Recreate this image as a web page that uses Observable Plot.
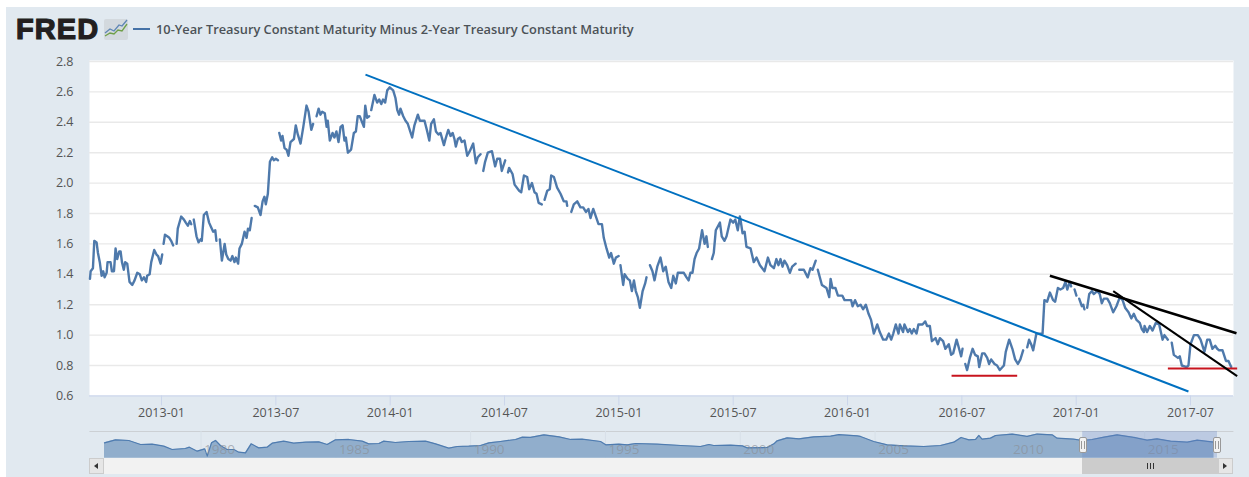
<!DOCTYPE html>
<html>
<head>
<meta charset="utf-8">
<script src="https://cdn.jsdelivr.net/npm/d3@7"></script>
<script src="https://cdn.jsdelivr.net/npm/@observablehq/plot@0.6"></script>
<style>
html,body{margin:0;padding:0;background:#fff;overflow:hidden}
#page{position:relative;width:1249px;height:477px;overflow:hidden}
#bg{position:absolute;left:6px;top:7px;right:0;bottom:0;background:#e1e9f0}
#page svg{position:absolute}
.box{position:absolute;box-sizing:border-box}
#fred{position:absolute;left:16px;top:13px;font:900 29px/32px "Liberation Sans",sans-serif;color:#231f20;-webkit-text-stroke:1.2px #231f20;letter-spacing:1.1px}
#lg{position:absolute;left:156px;top:20px;font:600 12.8px/18px "Open Sans",sans-serif;color:#4c5257;white-space:nowrap}
#sw{position:absolute;left:133px;top:28px;width:17px;height:2px;background:#4572a7}
</style>
</head>
<body>
<div id="page"><div id="bg"></div></div>
<script>
// Main series: decimal year and spread in percentage points; null marks a gap in the line
const years = [
2012.687,2012.690,2012.700,2012.706,2012.716,2012.722,2012.730,2012.738,2012.745,2012.751,2012.760,2012.764,2012.777,2012.783,2012.792,2012.799,2012.806,2012.815,2012.821,2012.827,2012.835,2012.841,2012.850,2012.860,2012.872,2012.882,2012.894,2012.905,2012.914,2012.923,2012.933,2012.937,2012.948,2012.955,2012.968,2012.978,2012.985,2012.996,2013.003,2013.006,
2013.009,2013.015,2013.025,2013.034,2013.042,2013.051,2013.058,
2013.066,2013.071,2013.086,2013.098,2013.106,2013.115,2013.124,2013.130,2013.135,
2013.141,2013.153,2013.162,2013.171,2013.176,2013.185,2013.197,2013.208,2013.217,2013.226,2013.235,2013.240,2013.248,
2013.255,2013.264,2013.276,2013.283,2013.292,2013.302,2013.310,2013.319,2013.325,2013.335,2013.341,2013.351,2013.363,2013.372,2013.378,2013.386,2013.394,2013.401,
2013.408,2013.421,2013.433,2013.442,2013.450,2013.456,2013.465,2013.474,2013.484,2013.491,2013.500,2013.509,2013.512,
2013.515,2013.523,2013.529,2013.538,2013.547,2013.555,2013.564,2013.579,2013.587,2013.596,2013.608,2013.620,2013.634,2013.643,2013.655,2013.663,2013.670,
2013.678,2013.687,2013.695,2013.703,2013.714,2013.722,2013.727,2013.736,2013.748,2013.756,2013.765,2013.774,2013.783,2013.792,2013.800,2013.806,2013.815,2013.829,2013.841,2013.850,2013.858,2013.867,2013.885,2013.891,2013.899,2013.908,2013.912,
2013.917,2013.931,2013.943,2013.952,2013.961,2013.969,2013.978,2013.987,2013.998,2014.013,2014.023,2014.031,2014.039,
2014.045,2014.057,2014.067,2014.077,2014.096,2014.106,2014.121,2014.130,2014.140,2014.150,2014.162,2014.171,2014.179,2014.191,2014.200,2014.211,2014.220,2014.235,2014.242,2014.254,2014.264,2014.273,2014.281,2014.287,2014.296,2014.305,2014.313,2014.325,2014.337,2014.348,2014.363,2014.375,2014.383,2014.395,2014.400,
2014.407,2014.415,2014.427,2014.445,2014.459,2014.468,2014.480,2014.488,2014.503,2014.510,
2014.515,2014.520,2014.535,2014.544,2014.564,2014.573,2014.585,2014.599,2014.608,2014.620,2014.631,2014.640,2014.649,2014.663,2014.670,
2014.675,2014.687,2014.698,2014.704,2014.716,2014.730,2014.745,2014.759,2014.771,2014.774,2014.783,
2014.792,2014.803,2014.818,2014.832,2014.844,2014.856,2014.867,2014.876,2014.888,2014.902,2014.911,2014.926,2014.934,2014.946,2014.958,2014.966,2014.978,2014.987,2014.999,2015.003,
2015.007,2015.019,2015.025,2015.039,2015.048,2015.057,2015.066,2015.074,2015.083,2015.092,2015.104,2015.115,2015.121,2015.128,
2015.136,2015.147,2015.156,2015.168,2015.182,2015.194,2015.205,2015.217,2015.229,2015.238,2015.249,2015.258,2015.273,2015.284,2015.296,2015.305,2015.313,2015.322,2015.331,2015.340,2015.351,2015.364,2015.375,2015.383,2015.389,2015.398,
2015.407,2015.415,2015.424,2015.442,2015.450,2015.462,2015.471,2015.480,2015.488,2015.500,2015.509,2015.520,2015.529,2015.532,2015.541,2015.550,2015.558,2015.576,2015.590,2015.602,2015.617,2015.637,2015.652,2015.663,2015.678,2015.689,2015.698,2015.707,2015.716,2015.724,2015.736,2015.748,2015.758,2015.773,2015.781,
2015.789,2015.809,2015.826,2015.838,2015.847,2015.861,2015.866,
2015.870,2015.888,2015.908,2015.920,2015.926,2015.934,2015.947,2015.958,2015.977,2015.987,2015.998,2016.016,2016.022,2016.033,2016.045,2016.057,2016.068,2016.080,2016.092,2016.103,2016.115,2016.130,2016.141,2016.156,2016.169,2016.181,2016.191,2016.200,2016.211,2016.223,2016.229,2016.243,2016.249,2016.264,2016.272,2016.281,2016.290,2016.302,2016.310,2016.328,2016.340,2016.348,2016.360,2016.369,2016.385,2016.395,2016.404,2016.418,2016.428,2016.443,2016.453,2016.462,2016.477,2016.488,2016.497,2016.503,2016.509,
2016.515,2016.523,2016.535,2016.547,2016.558,2016.570,2016.576,2016.589,2016.599,2016.611,2016.619,2016.628,2016.643,2016.654,2016.666,2016.684,2016.692,2016.707,2016.721,2016.733,2016.745,2016.756,2016.768,2016.777,
2016.786,2016.794,2016.803,2016.812,2016.826,2016.841,2016.853,2016.861,2016.873,2016.885,2016.899,2016.908,2016.920,2016.931,2016.943,2016.953,2016.961,2016.972,2016.978,2016.985,
2016.993,2017.001,2017.007,
2017.013,2017.025,2017.031,2017.036,2017.042,
2017.048,2017.057,2017.069,2017.077,2017.092,2017.103,2017.112,2017.121,2017.136,2017.147,2017.162,2017.176,2017.191,2017.203,2017.214,2017.229,2017.241,2017.252,2017.264,2017.278,2017.287,2017.296,2017.299,2017.310,2017.322,2017.334,2017.348,2017.363,2017.378,2017.386,2017.401,2017.410,
2017.418,2017.427,2017.445,2017.453,2017.462,2017.483,2017.491,2017.500,2017.515,2017.532,2017.544,2017.561,2017.573,2017.584,2017.596,2017.608,2017.617,2017.625,2017.640,2017.655,2017.666,2017.678
];
const spread = [
1.37,1.42,1.44,1.62,1.61,1.54,1.48,1.39,1.42,1.38,1.41,1.48,1.48,1.42,1.42,1.57,1.50,1.55,1.55,1.48,1.43,1.48,1.47,1.35,1.33,1.36,1.41,1.40,1.36,1.38,1.35,1.39,1.40,1.48,1.56,1.53,1.52,1.47,1.53,null,
1.60,1.66,1.65,1.64,1.62,1.59,null,
1.60,1.70,1.78,1.76,1.74,1.72,1.75,1.73,null,
1.76,1.65,1.61,1.63,1.62,1.79,1.81,1.74,1.71,1.68,1.69,1.62,null,
1.63,1.49,1.60,1.53,1.50,1.49,1.52,1.48,1.51,1.47,1.57,1.60,1.68,1.64,1.70,1.69,1.77,null,
1.85,1.84,1.79,1.88,1.91,1.86,1.93,2.14,2.17,2.15,2.16,2.15,null,
2.33,2.28,2.31,2.23,2.22,2.18,2.27,2.29,2.38,2.32,2.26,2.37,2.51,2.47,2.35,2.39,null,
2.44,2.49,2.45,2.47,2.46,2.37,2.41,2.28,2.33,2.30,2.34,2.27,2.37,2.38,2.28,2.30,2.20,2.22,2.33,2.34,2.44,2.44,2.37,2.51,2.43,2.44,null,
2.48,2.58,2.53,2.55,2.52,2.55,2.53,2.61,2.63,2.61,2.56,2.48,2.45,
2.49,2.44,2.41,2.39,2.30,2.38,2.45,2.41,2.41,2.41,2.34,2.28,2.39,2.42,2.34,2.32,2.33,2.25,2.29,2.35,2.31,2.33,2.29,2.24,2.29,2.30,2.27,2.28,2.18,2.21,2.26,2.13,2.17,2.19,null,
2.08,2.14,2.20,2.21,2.11,2.16,2.16,2.08,2.15,null,
2.07,2.10,2.06,1.99,1.95,1.94,2.05,2.04,1.96,2.00,1.94,1.93,1.87,1.86,null,
1.89,1.95,1.96,2.05,2.04,1.97,1.93,1.88,1.88,1.85,null,
1.81,1.86,1.88,1.84,1.84,1.81,1.83,1.77,1.83,1.77,1.73,1.73,1.64,1.57,1.51,1.54,1.47,1.51,1.52,null,
1.46,1.33,1.40,1.37,1.36,1.29,1.36,1.29,1.25,1.18,1.29,1.34,1.38,null,
1.46,1.42,1.36,1.45,1.51,1.42,1.45,1.35,1.31,1.39,1.34,1.41,1.41,1.41,1.38,1.36,1.41,1.41,1.50,1.54,1.57,1.69,1.60,1.65,1.58,null,
1.50,1.54,1.69,1.74,1.65,1.62,1.65,1.71,1.76,1.74,1.76,1.69,1.78,1.76,1.67,1.68,1.58,1.57,1.48,1.51,1.46,1.42,1.51,1.46,1.44,1.50,1.46,1.50,1.45,1.49,1.46,1.41,1.45,1.47,null,
1.43,1.43,1.38,1.44,1.43,1.49,null,
1.43,1.33,1.31,1.25,1.37,1.31,1.31,1.26,1.26,1.23,1.23,1.23,1.19,1.23,1.19,1.20,1.17,1.20,1.14,1.10,1.01,1.07,1.02,0.97,0.97,1.01,0.97,1.01,1.07,1.01,1.07,1.02,1.07,1.02,1.04,1.01,1.04,1.01,1.07,1.07,1.09,1.06,1.06,0.96,0.98,0.94,0.98,0.96,0.91,0.94,0.87,0.88,0.97,0.91,0.86,0.91,null,
0.81,0.77,0.85,0.91,0.87,0.86,0.79,0.88,0.88,0.85,0.81,0.84,0.81,0.80,0.77,0.80,0.89,0.97,0.91,0.84,0.81,0.84,0.90,null,
0.92,0.97,0.94,0.90,1.01,1.01,1.01,1.23,1.22,1.28,1.23,1.22,1.31,1.30,1.31,1.35,1.30,1.35,1.32,null,
1.30,1.26,null,
1.24,1.19,1.20,1.17,null,
1.18,1.27,1.29,1.27,1.29,1.27,1.21,1.24,1.24,1.21,1.15,1.19,1.25,1.23,1.18,1.15,1.11,1.14,1.10,1.08,1.04,1.02,1.06,1.02,1.06,1.03,1.08,1.07,0.97,1.00,0.97,null,
0.95,0.87,0.85,0.86,0.80,0.79,0.80,0.94,1.00,1.00,0.97,0.89,0.97,0.97,0.91,0.93,0.91,0.90,0.90,0.83,0.83,0.79
];

// Hand-drawn annotation segments on the chart [year1, value1, year2, value2]
const blueTrend = [2013.892, 2.714, 2017.491, 0.629];
const redLow1 = [2016.455, 0.732, 2016.742, 0.732];
const redLow2 = [2017.401, 0.780, 2017.704, 0.780];
const blackTrend1 = [2016.885, 1.390, 2017.701, 1.012];
const blackTrend2 = [2017.162, 1.289, 2017.704, 0.730];

const xTicks = [2013, 2013.5, 2014, 2014.5, 2015, 2015.5, 2016, 2016.5, 2017, 2017.5];
const xLabels = ["2013-01","2013-07","2014-01","2014-07","2015-01","2015-07","2016-01","2016-07","2017-01","2017-07"];
const yTicks = [0.6,0.8,1.0,1.2,1.4,1.6,1.8,2.0,2.2,2.4,2.6,2.8];
const legendLabel = "10-Year Treasury Constant Maturity Minus 2-Year Treasury Constant Maturity";

// Navigator overview 1976-2017
const navYears = [1976.42,1976.83,1977.32,1977.76,1978.19,1978.62,1978.93,1979.42,1979.57,1979.86,1980.14,1980.23,1980.39,1980.54,1980.72,1980.97,1981.22,1981.40,1981.65,1981.86,1982.14,1982.45,1982.64,1983.07,1983.44,1983.88,1984.37,1984.68,1984.99,1985.48,1985.98,1986.22,1986.60,1986.78,1987.21,1987.71,1988.33,1988.70,1989.19,1989.50,1989.93,1990.37,1990.68,1991.11,1991.67,1991.92,1992.22,1992.72,1993.28,1993.71,1994.14,1994.82,1995.01,1995.50,1995.81,1996.12,1996.92,1997.79,1998.53,1998.84,1999.02,1999.64,2000.08,2000.26,2001.00,2001.25,2001.37,2001.74,2002.18,2002.73,2003.35,2003.66,2004.34,2004.46,2004.95,2005.45,2006.07,2006.81,2007.43,2007.92,2008.19,2008.48,2008.73,2008.85,2008.97,2009.28,2009.47,2010.09,2010.64,2011.01,2011.57,2011.75,2012.37,2012.68,2013.05,2013.49,2013.98,2014.60,2015.09,2015.46,2015.96,2016.58,2016.95,2017.57];
const navValues = [0.92,1.66,1.50,0.50,0.59,0.09,-0.74,-0.49,-0.16,-1.16,-0.58,-2.40,0.92,1.50,0.25,-0.74,-0.74,-1.41,-1.57,0.67,-0.33,-0.16,0.83,1.33,0.83,1.08,1.17,0.50,1.66,1.75,1.33,0.67,0.75,1.33,1.00,1.25,1.33,0.67,-0.41,0,0.09,0.25,0.92,1.25,1.75,2.33,2.25,2.91,2.41,1.75,1.83,1.25,0.42,0.59,0.42,0.75,0.59,0.25,0,0.50,0.25,0.34,0.17,-0.33,-0.24,0.67,1.42,2.16,1.91,2.41,2.58,2.95,2.66,2.50,1.25,0.42,0.17,0,0.25,1.08,2.25,1.66,1.75,2.74,1.83,2.08,2.74,3.10,2.50,3.10,2.91,2.08,1.83,1.50,1.75,2.33,2.91,2.25,1.58,1.91,1.33,1.08,1.58,1.08];
const navTicks = [1980,1985,1990,1995,2000,2005,2010,2015];
const selection = [2012.70, 2017.70];

const page = document.getElementById("page");
const FONT = '"Open Sans",sans-serif';
const rows = years.map((yr,i)=>({yr, v: spread[i]==null ? NaN : spread[i]}));
const seg = s => [{x1:s[0],y1:s[1],x2:s[2],y2:s[3]}];
const segMark = (s,stroke,w) => Plot.link(seg(s),{x1:"x1",y1:"y1",x2:"x2",y2:"y2",stroke,strokeWidth:w,strokeLinecap:"butt",clip:false});

const main = Plot.plot({
  width:1249, height:477,
  marginLeft:89, marginRight:16, marginTop:60, marginBottom:81.6,
  style:{background:"transparent",fontFamily:FONT,fontSize:"12.5px"},
  x:{domain:[2012.685,2017.688]},
  y:{domain:[0.6,2.8],range:[395.4,61]},
  marks:[
    Plot.frame({fill:"#fff",stroke:null}),
    Plot.gridY(yTicks.slice(1),{stroke:"#e9e9e9",strokeOpacity:1,strokeWidth:1.4}),
    Plot.ruleY([0.6],{stroke:"#ccd6eb",strokeWidth:1.2}),
    Plot.axisX({ticks:xTicks,tickFormat:d=>xLabels[xTicks.indexOf(d)],tickSize:10,tickPadding:2,stroke:"#ccd6eb",color:"#555",label:null,fill:"#555"}),
    Plot.axisY({ticks:yTicks,tickFormat:d3.format(".1f"),tickSize:0,tickPadding:16,fill:"#555",label:null}),
    Plot.line(rows,{x:"yr",y:"v",stroke:"#4572a7",strokeWidth:2.4,strokeLinejoin:"round",strokeOpacity:.95}),
    segMark(blueTrend,"#0070c0",2),
    segMark(redLow1,"#c8141e",2),
    segMark(redLow2,"#c8141e",2),
    segMark(blackTrend1,"#000",2.6),
    segMark(blackTrend2,"#000",2)
  ]
});
main.style.left="0"; main.style.top="0";
page.appendChild(main);

const navRows = navYears.map((yr,i)=>({yr,v:navValues[i]}));
const nav = Plot.plot({
  width:1249, height:52,
  marginLeft:104, marginRight:32, marginTop:0, marginBottom:0,
  style:{background:"transparent",fontFamily:FONT,fontSize:"13.5px"},
  x:{domain:[1976.42,2017.70],range:[104,1217],axis:null},
  y:{domain:[-2.9,2.91],range:[32.7,9.3],axis:null},
  marks:[
    Plot.link([{a:1975.86,b:2018.29}],{x1:"a",x2:"b",y1:()=>3.73,y2:()=>3.73,stroke:"#ccd0d4",strokeWidth:1,clip:false}),
    Plot.ruleX(navTicks,{y1:()=>3.73,y2:()=>-2.9,stroke:"#d8e0e8",strokeWidth:1}),
    Plot.area(navRows,{x1:"yr",y1:()=>-2.9,y2:"v",fill:"#91aecc"}),
    Plot.line(navRows,{x:"yr",y:"v",stroke:"#4f7cb0",strokeWidth:1.2}),
    Plot.text(navTicks,{x:d=>d,y:()=>-0.83,dx:18.5,text:d=>String(d),fill:"#8a8f96",fillOpacity:.65}),
    Plot.rect([{a:selection[0],b:selection[1]}],{x1:"a",x2:"b",y1:()=>-2.9,y2:()=>3.73,fill:"#6685c2",fillOpacity:.3})
  ]
});
nav.style.left="0"; nav.style.top="425px";
page.appendChild(nav);

// Header and navigator chrome
function box(l,t,w,h,css){const d=document.createElement("div");d.className="box";d.style.cssText=`left:${l}px;top:${t}px;width:${w}px;height:${h}px;${css||""}`;page.appendChild(d);return d;}
const fred=document.createElement("div");fred.id="fred";fred.textContent="FRED";page.appendChild(fred);
const sw=document.createElement("div");sw.id="sw";page.appendChild(sw);
const lg=document.createElement("div");lg.id="lg";lg.textContent=legendLabel;page.appendChild(lg);
const icon=document.createElement("div");
icon.innerHTML='<svg style="left:104px;top:19px" width="24" height="21" viewBox="0 0 24 21"><rect width="24" height="21" rx="2" fill="#d3d9de"/><polyline points="1,14 6,10 10,12 15,6 18,7 23,1" fill="none" stroke="#5f86b5" stroke-width="1.3"/><polyline points="1,17 6,14 10,15 14,11 18,12 23,5" fill="none" stroke="#6f9f48" stroke-width="1.3"/></svg>';
page.appendChild(icon);
// scrollbar
box(104,458,978,16,"background:#f2f2f2");
box(1082,458,136,16,"background:#ccc");
box(89,458,15,16,"background:#e6e6e6;border:1px solid #ccc");
box(1218,458,15,16,"background:#e6e6e6;border:1px solid #ccc");
box(94,463,0,0,"border:3px solid transparent;border-right:4px solid #333;border-left:0");
box(1223,463,0,0,"border:3px solid transparent;border-left:4px solid #333;border-right:0");
[1147,1150,1153].forEach(x=>box(x,463,1,6,"background:#333"));
// handles
[1083,1217].forEach(cx=>{
  box(cx-4,437,8,16,"background:#f2f2f2;border:1px solid #999;border-radius:2px");
  box(cx-2,441,1,8,"background:#999");
  box(cx+1,441,1,8,"background:#999");
});
</script>
</body>
</html>
